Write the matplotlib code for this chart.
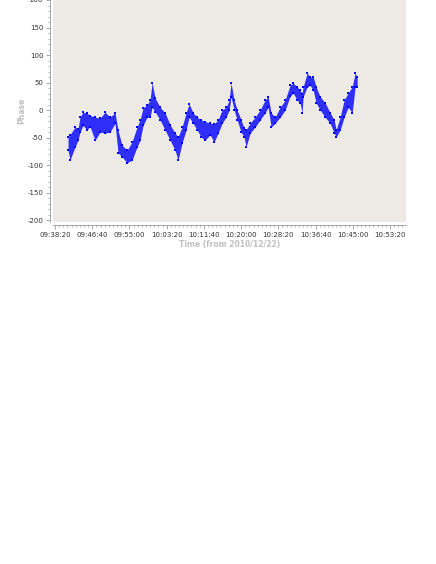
import matplotlib
matplotlib.use('Agg')
import matplotlib.pyplot as plt
import matplotlib.dates as mdates
from matplotlib.ticker import AutoMinorLocator, MultipleLocator, FixedLocator
import pandas as pd

plt.rcParams['axes.unicode_minus'] = False

# 읽어낸 데이터: 시각별 위상 범위 (하한/상한)
times = ['09:41:15', '09:41:42', '09:42:49', '09:43:29', '09:43:56', '09:44:36',
         '09:45:30', '09:46:10', '09:47:18', '09:48:25', '09:49:32', '09:50:39',
         '09:51:46', '09:52:27', '09:53:20', '09:54:28', '09:55:35', '09:56:42',
         '09:57:22', '09:58:03', '09:58:56', '09:59:37', '10:00:04', '10:00:44',
         '10:01:51', '10:02:58', '10:04:06', '10:05:13', '10:05:53', '10:06:47',
         '10:07:41', '10:08:21', '10:09:15', '10:10:08', '10:11:02', '10:11:56',
         '10:13:03', '10:13:57', '10:14:51', '10:15:44', '10:16:38', '10:17:19',
         '10:17:45', '10:18:26', '10:19:06', '10:20:00', '10:20:40', '10:21:07',
         '10:22:01', '10:23:08', '10:24:15', '10:25:22', '10:26:03', '10:26:43',
         '10:27:37', '10:28:44', '10:29:51', '10:30:58', '10:31:39', '10:32:32',
         '10:33:13', '10:33:40', '10:33:53', '10:34:47', '10:35:27', '10:36:08',
         '10:36:48', '10:37:42', '10:38:49', '10:39:56', '10:40:50', '10:41:17',
         '10:42:10', '10:43:04', '10:43:58', '10:44:52', '10:45:32', '10:45:59']
phase_lo = [-73, -91, -67, -55, -40, -28, -36, -30, -55, -40, -42, -40,
            -24, -78, -85, -96, -91, -67, -55, -28, -13, -13, 5, -3,
            -18, -36, -55, -73, -91, -60, -36, -13, -24, -36, -49, -55,
            -45, -58, -42, -24, -13, 0, 24, 0, -18, -40, -49, -67,
            -42, -31, -18, -5, 5, -31, -24, -13, 0, 25, 31, 18,
            13, -5, 24, 42, 45, 36, 13, 0, -13, -24, -42, -49,
            -36, -13, 5, -5, 42, 42]
phase_hi = [-49, -45, -31, -35, -13, -4, -6, -10, -13, -15, -4, -13,
            -5, -37, -64, -73, -58, -31, -18, 4, 9, 18, 50, 22,
            5, -5, -27, -42, -49, -31, -5, 11, -5, -13, -18, -21,
            -24, -25, -18, 0, 5, 18, 49, 18, 0, -18, -33, -36,
            -24, -13, 0, 18, 24, -5, -13, 5, 18, 45, 49, 42,
            36, 30, 42, 67, 60, 60, 42, 24, 13, -5, -18, -36,
            -13, 18, 31, 42, 67, 60]

x_ticks = ['09:38:20', '09:46:40', '09:55:00', '10:03:20', '10:11:40',
           '10:20:00', '10:28:20', '10:36:40', '10:45:00', '10:53:20']
x_range = ['09:37:53', '10:56:55']
day = '2010-12-22 '

t = mdates.date2num(pd.to_datetime([day + s for s in times]))
tick_pos = mdates.date2num(pd.to_datetime([day + s for s in x_ticks]))
xr = mdates.date2num(pd.to_datetime([day + s for s in x_range]))

fig = plt.figure(figsize=(4.36, 5.64), dpi=100)
ax = fig.add_axes([53 / 436, 1 - 222 / 564, 353 / 436, 222 / 564])
ax.set_facecolor('#edeae6')

# 점구름 표현
ax.fill_between(t, phase_lo, phase_hi, color='#0000ff', alpha=0.8, linewidth=0)
ax.scatter(t, phase_lo, s=4, marker='s', color='#0000ff', linewidths=0)
ax.scatter(t, phase_hi, s=4, marker='s', color='#0000ff', linewidths=0)

ax.set_xlim(xr[0], xr[1])
ax.set_ylim(-203.6, 200)
ax.xaxis.set_major_locator(FixedLocator(tick_pos))
ax.xaxis.set_major_formatter(mdates.DateFormatter('%H:%M:%S'))
ax.xaxis.set_minor_locator(AutoMinorLocator(9))
ax.yaxis.set_major_locator(MultipleLocator(50))
ax.yaxis.set_minor_locator(AutoMinorLocator(5))

for side in ['top', 'right']:
    ax.spines[side].set_visible(False)
for side in ['left', 'bottom']:
    ax.spines[side].set_position(('outward', 2))
    ax.spines[side].set_color('#999999')
    ax.spines[side].set_linewidth(0.6)

ax.tick_params(which='major', length=3, width=0.6, color='#999999',
               labelsize=5, labelcolor='#333333', pad=2)
ax.tick_params(which='minor', length=1.5, width=0.5, color='#999999')

ax.set_xlabel('Time (from 2010/12/22)', fontsize=5.5, fontweight='bold',
              color='#c0c0c0', labelpad=2)
ax.set_ylabel('Phase', fontsize=5.5, fontweight='bold', color='#c0c0c0',
              labelpad=1)

fig.savefig('out.png', dpi=100)
